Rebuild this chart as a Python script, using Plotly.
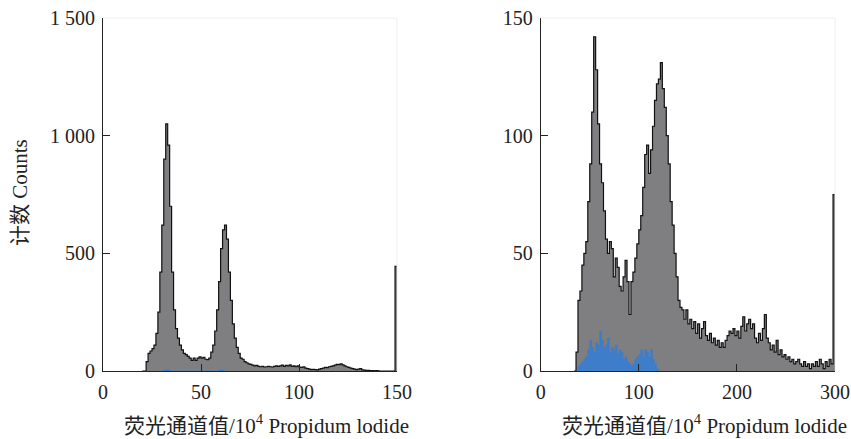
import plotly.graph_objects as go

# ---------------- data: left panel ----------------
left_x_start = 20
left_counts = [
    0, 0, 40, 75, 85, 95, 110, 160, 250, 420,          # 20-29
    620, 900, 1050, 960, 700, 420, 260, 180, 140, 110,  # 30-39
    90, 75, 70, 62, 55, 45, 55, 45, 55, 60,             # 40-49
    55, 58, 50, 48, 55, 80, 110, 170, 260, 380,         # 50-59
    520, 600, 620, 560, 420, 300, 200, 140, 100, 75,    # 60-69
    55, 50, 40, 35, 30, 28, 25, 22, 24, 20,             # 70-79
    18, 20, 17, 18, 20, 18, 17, 20, 22, 20,             # 80-89
    22, 25, 20, 24, 22, 26, 20, 22, 18, 22,             # 90-99
    17, 15, 18, 12, 10, 8, 6, 7, 6, 5,                  # 100-109
    8, 10, 12, 15, 14, 18, 20, 22, 25, 28,              # 110-119
    27, 30, 26, 22, 18, 15, 12, 10, 8, 6,               # 120-129
    8, 10, 5, 4, 3, 3, 2, 2, 1, 2,                      # 130-139
    1, 0, 0, 0, 0, 0, 0, 0, 0, 445,                     # 140-149
    0,                                                  # 150
]
left_blue_x = [30, 31, 32, 33, 34, 58, 59, 60, 61, 62]
left_blue_counts = [0, 5, 6, 4, 0, 0, 4, 5, 3, 0]

# ---------------- data: right panel ----------------
right_x_start = 34
right_step = 2
right_counts = [
    0, 8, 30, 34, 45, 50, 55, 72, 88, 110,          # 34-52
    142, 128, 105, 88, 80, 68, 56, 50, 55, 52,      # 54-72
    40, 48, 44, 36, 34, 40, 47, 38, 24, 38,         # 74-92
    42, 48, 54, 60, 66, 78, 92, 96, 84, 94,         # 94-112
    104, 115, 122, 124, 131, 120, 112, 100, 88, 72, # 114-132
    62, 50, 40, 30, 27, 26, 22, 26, 20, 22,         # 134-152
    18, 21, 16, 20, 14, 18, 21, 15, 13, 16,         # 154-172
    12, 14, 11, 13, 10, 12, 10, 13, 15, 17,         # 174-192
    16, 18, 15, 17, 14, 19, 23, 17, 20, 22,         # 194-212
    18, 20, 14, 12, 16, 13, 18, 24, 14, 12,         # 214-232
    9, 11, 8, 13, 7, 9, 6, 7, 5, 6,                 # 234-252
    4, 5, 3, 4, 5, 3, 2, 4, 2, 3,                   # 254-272
    1, 3, 2, 4, 2, 5, 3, 1, 4, 2,                   # 274-292
    5, 3, 75, 0,                                    # 294-300
]
right_blue_x_start = 36
right_blue_counts = [
    0, 2, 3, 4, 5, 6, 9, 13, 10, 8,
    12, 11, 17, 13, 10, 11, 14, 8, 10, 9,
    11, 7, 9, 8, 5, 6, 4, 3, 2, 3,
    5, 6, 7, 9, 6, 9, 8, 6, 9, 5,
    3, 1, 0,
]

left_x = [left_x_start + i for i in range(len(left_counts))]
right_x = [right_x_start + right_step * i for i in range(len(right_counts))]
right_blue_x = [right_blue_x_start + right_step * i for i in range(len(right_blue_counts))]

left_xticks = [0, 50, 100, 150]
left_yticks = [0, 500, 1000, 1500]
left_yticktext = ["0", "500", "1 000", "1 500"]
right_xticks = [0, 100, 200, 300]
right_yticks = [0, 50, 100, 150]

GRAY = "#7f7f82"
BLUE = "#3d7dca"
FONT = "Liberation Serif, Times New Roman, Noto Sans CJK SC, serif"
FS_TICK = 20
FS_TITLE = 21

fig = go.Figure()

fig.add_trace(go.Scatter(x=left_x, y=left_counts, mode="lines", line_shape="hv",
                         fill="tozeroy", fillcolor=GRAY,
                         line=dict(color="#111111", width=1.2),
                         xaxis="x", yaxis="y", showlegend=False, hoverinfo="skip"))
fig.add_trace(go.Scatter(x=left_blue_x, y=left_blue_counts, mode="lines", line_shape="hv",
                         fill="tozeroy", fillcolor=BLUE,
                         line=dict(color=BLUE, width=0.5),
                         xaxis="x", yaxis="y", showlegend=False, hoverinfo="skip"))
fig.add_trace(go.Scatter(x=right_x, y=right_counts, mode="lines", line_shape="hv",
                         fill="tozeroy", fillcolor=GRAY,
                         line=dict(color="#111111", width=1.2),
                         xaxis="x2", yaxis="y2", showlegend=False, hoverinfo="skip"))
fig.add_trace(go.Scatter(x=right_blue_x, y=right_blue_counts, mode="lines", line_shape="hv",
                         fill="tozeroy", fillcolor=BLUE,
                         line=dict(color=BLUE, width=0.5),
                         xaxis="x2", yaxis="y2", showlegend=False, hoverinfo="skip"))

W, H = 851, 439


def px_x(v):
    return v / W


def px_y(v):
    return (H - v) / H


ydom = [px_y(371), px_y(18)]
xdom1 = [px_x(103), px_x(397)]
xdom2 = [px_x(540.7), px_x(835)]

axis_common = dict(showline=True, linecolor="#222222", linewidth=1, ticks="inside",
                   ticklen=7, tickcolor="#222222", showgrid=False, zeroline=False,
                   automargin=False,
                   tickfont=dict(family=FONT, size=FS_TICK, color="#222222"),
                   ticklabelstandoff=3)

fig.update_layout(
    width=W, height=H, margin=dict(l=0, r=0, t=0, b=0),
    paper_bgcolor="white", plot_bgcolor="white",
    xaxis=dict(domain=xdom1, range=[0, 150], tickvals=left_xticks, anchor="y", **axis_common),
    yaxis=dict(domain=ydom, range=[0, 1500], tickvals=left_yticks, ticktext=left_yticktext,
               anchor="x", **axis_common),
    xaxis2=dict(domain=xdom2, range=[0, 300], tickvals=right_xticks, anchor="y2", **axis_common),
    yaxis2=dict(domain=ydom, range=[0, 150], tickvals=right_yticks, anchor="x2", **axis_common),
    font=dict(family=FONT, size=FS_TICK, color="#222222"),
)

# faint top/right frame lines
for xr, yr in (("x domain", "y domain"), ("x2 domain", "y2 domain")):
    fig.add_shape(type="line", xref=xr, yref=yr, x0=0, x1=1, y0=1, y1=1,
                  line=dict(color="#eeeeee", width=1))
    fig.add_shape(type="line", xref=xr, yref=yr, x0=1, x1=1, y0=0, y1=1,
                  line=dict(color="#eeeeee", width=1))

title_text = "荧光通道值/10<sup>4</sup> Propidum lodide"
fig.add_annotation(text=title_text, xref="paper", yref="paper",
                   x=px_x(411), y=px_y(424), xanchor="right", yanchor="middle",
                   showarrow=False, font=dict(family=FONT, size=FS_TITLE, color="#222222"))
fig.add_annotation(text=title_text, xref="paper", yref="paper",
                   x=px_x(849), y=px_y(424), xanchor="right", yanchor="middle",
                   showarrow=False, font=dict(family=FONT, size=FS_TITLE, color="#222222"))
fig.add_annotation(text="计数 Counts", xref="paper", yref="paper",
                   x=px_x(20), y=px_y(193), xanchor="center", yanchor="middle",
                   textangle=-90, showarrow=False,
                   font=dict(family=FONT, size=FS_TITLE, color="#222222"))

# remove the default 8px page margin so the figure fills the 851x439 window
fig.write_html("out.html",
               config={"displayModeBar": False},
               post_script="document.body.style.margin='0';document.body.style.overflow='hidden';")
